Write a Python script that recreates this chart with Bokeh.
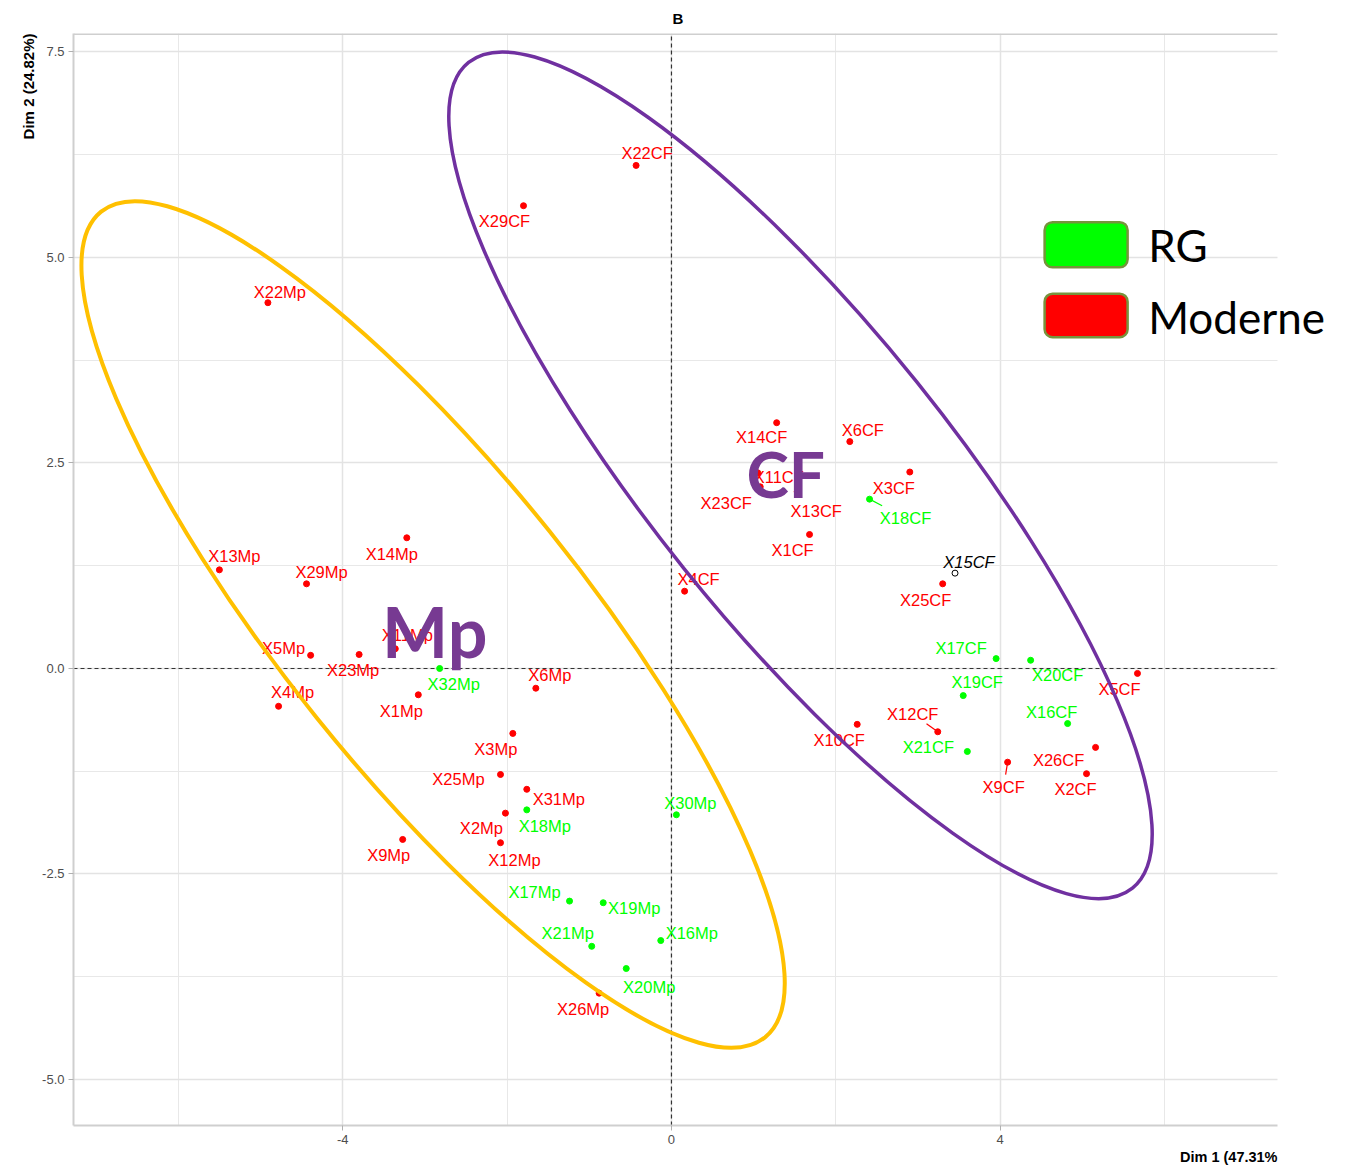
from bokeh.plotting import figure
from bokeh.models import (Range1d, FixedTicker, NumeralTickFormatter, Title, Label,
                          BoxAnnotation, ColumnDataSource)
from bokeh.core.properties import value
from bokeh.embed import file_html
from bokeh.resources import INLINE

# ---------------- data (PCA individual coordinates, Dim 1 / Dim 2) ----------------
mod_names = ["X22CF", "X29CF", "X14CF", "X6CF", "X3CF", "X11CF", "X23CF", "X13CF", "X1CF",
             "X4CF", "X25CF", "X5CF", "X12CF", "X10CF", "X26CF", "X9CF", "X2CF",
             "X22Mp", "X13Mp", "X29Mp", "X14Mp", "X11Mp", "X5Mp", "X23Mp", "X4Mp", "X1Mp",
             "X6Mp", "X3Mp", "X25Mp", "X31Mp", "X2Mp", "X12Mp", "X9Mp", "X26Mp"]
mod_x = [-0.43, -1.80, 1.28, 2.17, 2.90, 1.05, 1.08, 1.53, 1.68,
         0.16, 3.30, 5.67, 3.24, 2.26, 5.16, 4.09, 5.05,
         -4.91, -5.50, -4.44, -3.22, -3.36, -4.39, -3.80, -4.78, -3.08,
         -1.65, -1.93, -2.08, -1.76, -2.02, -2.08, -3.27, -0.88]
mod_y = [6.12, 5.63, 2.99, 2.76, 2.39, 2.38, 2.21, 2.15, 1.63,
         0.94, 1.03, -0.06, -0.77, -0.68, -0.96, -1.14, -1.28,
         4.45, 1.20, 1.03, 1.59, 0.24, 0.16, 0.17, -0.46, -0.32,
         -0.24, -0.79, -1.29, -1.47, -1.76, -2.12, -2.08, -3.95]

rg_names = ["X18CF", "X17CF", "X20CF", "X19CF", "X16CF", "X21CF",
            "X32Mp", "X18Mp", "X30Mp", "X17Mp", "X19Mp", "X21Mp", "X16Mp", "X20Mp"]
rg_x = [2.41, 3.95, 4.37, 3.55, 4.82, 3.60,
        -2.82, -1.76, 0.06, -1.24, -0.83, -0.97, -0.13, -0.55]
rg_y = [2.06, 0.12, 0.10, -0.33, -0.67, -1.01,
        0.00, -1.72, -1.78, -2.83, -2.85, -3.38, -3.31, -3.65]

sup_names = ["X15CF"]
sup_x = [3.45]
sup_y = [1.16]

# confidence ellipses (Mp, CF)
ell_names = ["Mp", "CF"]
ell_x = [-2.90, 1.57]
ell_y = [0.535, 2.35]
ell_w = [12.89, 12.89]
ell_h = [3.63, 3.63]
ell_angle = [-51.2, -51.2]

legend_labels = ["RG", "Moderne"]
x_ticks = [-4, 0, 4]
y_ticks = [-5.0, -2.5, 0.0, 2.5, 5.0, 7.5]

# ---------------- label placement (screen px offsets, repel-like) ----------------
mod_dx = [11, -19, -15, 13, -16, 21, -34, 19, -17,
          14, -17, -18, -25, -18, -37, -4, -11,
          12, 15, 15, -15, 12, -27, -6, 14, -17,
          14, -17, -42, 32, -24, 14, -14, -16]
mod_dy = [-12, 15, 14, -12, 16, 4, 16, 19, 16,
          -12, 16, 16, -18, 16, 13, 25, 15,
          -11, -14, -12, 16, -14, -7, 15, -14, 16,
          -13, 16, 4, 10, 15, 17, 16, 16]
rg_dx = [36, -35, 27, 14, -16, -39, 14, 18, 14, -35, 31, -24, 31, 23]
rg_dy = [19, -11, 15, -14, -12, -4, 16, 16, -12, -9, 5, -13, -8, 18]
sup_dx = [14]
sup_dy = [-11]

RED = "#FF0000"
GREEN = "#00FF00"
PURPLE = "#7030A0"
GOLD = "#FFC000"
PX = 82.2  # px per unit (for leader segment lengths)

X0, X1 = -7.275, 7.372      # visible panel of the chart
Y0, Y1 = -5.56, 7.725
XR = 8.14                    # frame extended to the right to host the legend

p = figure(width=1350, height=1166,
           x_range=Range1d(X0, XR), y_range=Range1d(Y0, Y1),
           output_backend="svg", toolbar_location=None,
           min_border_left=73, min_border_right=10, min_border_top=33, min_border_bottom=41)

p.background_fill_color = "white"
p.border_fill_color = "white"
p.outline_line_color = None

# title
p.title.text = "B"
p.title.align = "left"
p.title.offset = 599
p.title.text_font = "Liberation Sans"
p.title.text_font_size = "15px"
p.title.text_font_style = "bold"
p.title.text_color = "black"
p.title.standoff = 13

# axes
p.xaxis.ticker = FixedTicker(ticks=x_ticks, minor_ticks=[-6, -2, 2, 6])
p.yaxis.ticker = FixedTicker(ticks=y_ticks, minor_ticks=[-3.75, -1.25, 1.25, 3.75, 6.25])
p.xaxis.formatter = NumeralTickFormatter(format="0")
p.yaxis.formatter = NumeralTickFormatter(format="0.0")
p.xaxis.bounds = (X0, X1)
for ax in (p.xaxis, p.yaxis):
    ax.axis_line_color = "#CFCFCF"
    ax.axis_line_width = 2
    ax.major_tick_line_color = "#B0B0B0"
    ax.major_tick_out = 5
    ax.major_tick_in = 0
    ax.minor_tick_line_color = None
    ax.major_label_text_font = "Liberation Sans"
    ax.major_label_text_font_size = "13px"
    ax.major_label_text_color = "#4D4D4D"
    ax.major_label_standoff = 4

for g in (p.xgrid, p.ygrid):
    g.grid_line_color = "#E3E3E3"
    g.grid_line_width = 1.5
    g.minor_grid_line_color = "#E8E8E8"
    g.minor_grid_line_width = 1
p.ygrid.cross_bounds = (X0, X1)
p.xgrid.bounds = (X0, X1)

# top border of the panel
p.segment([X0], [Y1], [X1], [Y1], line_color="#CFCFCF", line_width=3)
# origin dashed lines
p.segment([0], [Y0], [0], [Y1], line_color="#333333", line_width=1.2, line_dash="4 3")
p.segment([X0], [0], [X1], [0], line_color="#333333", line_width=1.2, line_dash="4 3")

# axis titles
p.add_layout(Title(text="Dim 2 (24.82%)", align="right", text_font="Liberation Sans",
                   text_font_size="15px", text_font_style="bold", text_color="black",
                   standoff=6), "left")
p.add_layout(Title(text="Dim 1 (47.31%", align="right", offset=63, text_font="Liberation Sans",
                   text_font_size="14.5px", text_font_style="bold", text_color="black",
                   standoff=0), "below")

# sources
mod_src = ColumnDataSource(dict(x=mod_x, y=mod_y, name=mod_names, dx=mod_dx, dy=mod_dy))
rg_src = ColumnDataSource(dict(x=rg_x, y=rg_y, name=rg_names, dx=rg_dx, dy=rg_dy))
sup_src = ColumnDataSource(dict(x=sup_x, y=sup_y, name=sup_names, dx=sup_dx, dy=sup_dy))

# leader segments (repel lines)
def leader(names, xs, ys, dxs, dys, which, frac):
    x0, y0, x1, y1 = [], [], [], []
    for n, f in zip(which, frac):
        i = names.index(n)
        x0.append(xs[i]); y0.append(ys[i])
        x1.append(xs[i] + f * dxs[i] / PX); y1.append(ys[i] - f * dys[i] / PX)
    return x0, y0, x1, y1

sx0, sy0, sx1, sy1 = leader(rg_names, rg_x, rg_y, rg_dx, rg_dy, ["X18CF"], [0.35])
p.segment(sx0, sy0, sx1, sy1, line_color=GREEN, line_width=1.2)
sx0, sy0, sx1, sy1 = leader(mod_names, mod_x, mod_y, mod_dx, mod_dy, ["X12CF", "X9CF"], [0.45, 0.5])
p.segment(sx0, sy0, sx1, sy1, line_color=RED, line_width=1.2)

# points
p.scatter("x", "y", source=mod_src, size=6, fill_color=RED, line_color=RED)
p.scatter("x", "y", source=rg_src, size=6, fill_color=GREEN, line_color=GREEN)
p.scatter("x", "y", source=sup_src, size=6, fill_color=None, line_color="black", line_width=1)

# labels
common = dict(text_align="center", text_baseline="middle",
              text_font=value("Liberation Sans"), text_font_size="16.5px")
p.text("x", "y", text="name", x_offset="dx", y_offset="dy", source=mod_src,
       text_color=RED, **common)
p.text("x", "y", text="name", x_offset="dx", y_offset="dy", source=rg_src,
       text_color=GREEN, **common)
p.text("x", "y", text="name", x_offset="dx", y_offset="dy", source=sup_src,
       text_color="black", text_font_style="italic", **common)

# group ellipses
ell_src = ColumnDataSource(dict(x=ell_x, y=ell_y, w=ell_w, h=ell_h, a=ell_angle,
                                c=[GOLD, PURPLE], lw=[4, 3.5]))
p.ellipse("x", "y", width="w", height="h", angle="a", angle_units="deg", source=ell_src,
          fill_color=None, line_color="c", line_width="lw")

# group names
p.add_layout(Label(x=-2.88, y=0.46, text="Mp", text_font="Lato", text_font_style="bold",
                   text_font_size="70px", text_color="#773A92", text_align="center",
                   text_baseline="middle"))
p.add_layout(Label(x=1.39, y=2.37, text="CF", text_font="Lato", text_font_style="bold",
                   text_font_size="64px", text_color="#773A92", text_align="center",
                   text_baseline="middle"))

# legend (manual)
p.add_layout(BoxAnnotation(left=4.54, right=5.55, top=5.43, bottom=4.88,
                           fill_color=GREEN, fill_alpha=1, line_color="#77933C",
                           line_width=2.5, line_alpha=1, border_radius=8))
p.add_layout(BoxAnnotation(left=4.54, right=5.55, top=4.56, bottom=4.03,
                           fill_color=RED, fill_alpha=1, line_color="#77933C",
                           line_width=2.5, line_alpha=1, border_radius=8))
p.add_layout(Label(x=5.80, y=5.15, text=legend_labels[0], text_font="Lato",
                   text_font_size="44px", text_color="black", text_align="left",
                   text_baseline="middle"))
p.add_layout(Label(x=5.80, y=4.28, text=legend_labels[1], text_font="Lato",
                   text_font_size="44px", text_color="black", text_align="left",
                   text_baseline="middle"))

open("out.html", "w").write(file_html(p, INLINE))
